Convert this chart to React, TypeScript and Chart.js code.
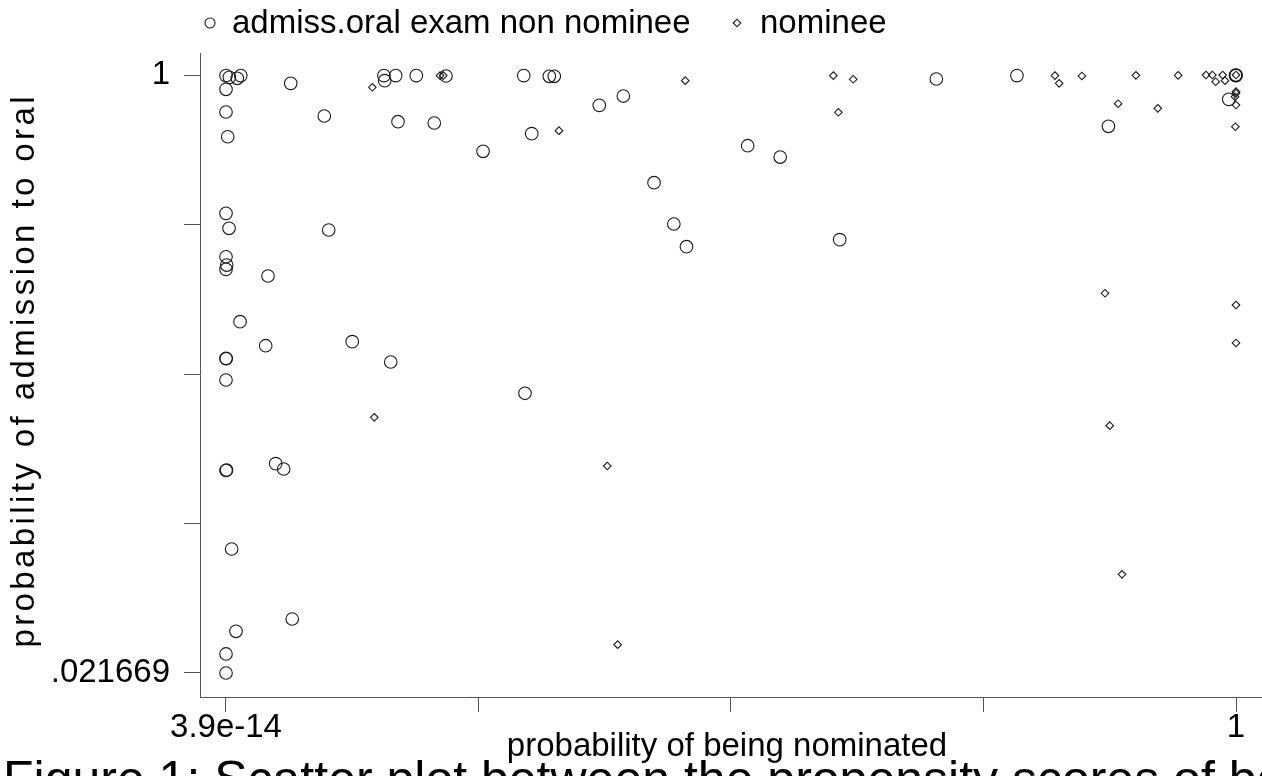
import React, { useEffect, useRef } from 'react';
import { Chart, registerables } from 'chart.js';

Chart.register(...registerables);

const FONT = '"Liberation Sans", Arial, Helvetica, sans-serif';

// non nominee (circles)
const nonNomineeX = [
  0.0, 0.0033, 0.0112, 0.0146, 0.0, 0.0, 0.0017, 0.0641, 0.0973, 0.1564,
  0.1571, 0.168, 0.1884, 0.2178, 0.1703, 0.2062, 0.2545, 0.2948, 0.3201, 0.325,
  0.3027, 0.3696, 0.3934, 0.0, 0.003, 0.1017, 0.0, 0.0007, 0.0, 0.0416,
  0.0139, 0.0393, 0.125, 0.0, 0.0002, 0.1631, 0.0, 0.296, 0.0006, 0.0,
  0.0492, 0.0571, 0.0056, 0.0656, 0.0099, 0.0, 0.0, 0.4238, 0.5165, 0.5487,
  0.4434, 0.4559, 0.6076, 0.7033, 0.7831, 0.8737, 0.9928, 1.0, 0.9995, 1.0,
];
const nonNomineeY = [
  0.999, 0.9962, 0.9946, 0.999, 0.9766, 0.9395, 0.899, 0.9864, 0.9329, 0.999,
  0.9907, 0.999, 0.999, 0.9984, 0.9236, 0.9215, 0.8752, 0.999, 0.9979, 0.9979,
  0.904, 0.9504, 0.9656, 0.7737, 0.7492, 0.7464, 0.7027, 0.6891, 0.6821, 0.6712,
  0.5964, 0.5571, 0.5637, 0.5365, 0.5358, 0.5305, 0.501, 0.4793, 0.3538, 0.353,
  0.3641, 0.3554, 0.2245, 0.11, 0.0899, 0.0528, 0.021669, 0.8238, 0.8843, 0.8658,
  0.7562, 0.7191, 0.7306, 0.9935, 0.999, 0.9161, 0.9602, 1.0, 0.9995, 0.999,
];

// nominee (diamonds)
const nomineeX = [
  0.1449, 0.2119, 0.2151, 0.3297, 0.1468, 0.3775, 0.3878, 0.4547, 0.6013, 0.621,
  0.6063, 0.8207, 0.8249, 0.8474, 0.9009, 0.9427, 0.9703, 0.9766, 0.9799, 0.9868,
  0.9891, 0.8833, 0.9226, 1.0, 1.0, 0.999, 1.0, 0.9994, 0.8703, 1.0,
  1.0, 0.875, 0.8871, 1.0,
];
const nomineeY = [
  0.9799, 0.999, 0.999, 0.9089, 0.44, 0.3603, 0.068, 0.9907, 0.999, 0.993,
  0.939, 0.999, 0.9864, 0.9984, 0.9995, 0.9995, 1.0, 1.0, 0.989, 1.0,
  0.9907, 0.953, 0.9455, 0.9727, 0.9701, 0.9645, 0.9509, 0.9154, 0.6429, 0.6237,
  0.5616, 0.4263, 0.1831, 1.0,
];

const xTickValues = [3.9e-14, 0.25, 0.5, 0.75, 1];
const xTickLabels = ['3.9e-14', '', '', '', '1'];
const yTickValues = [0.021669, 0.266252, 0.510835, 0.755417, 1];
const yTickLabels = ['.021669', '', '', '', '1'];

const seriesLabels = ['admiss.oral exam non nominee', 'nominee'];
const xTitle = 'probability of being nominated';
const yTitle = 'probability of admission to oral';
const caption = 'Figure 1: Scatter plot between the propensity scores of both selection stages';

const INK = '#1a1a1a';
const AXIS = '#555555';

function drawSpaced(ctx: CanvasRenderingContext2D, text: string, cx: number, y: number, spacing: number) {
  const chars = Array.from(text);
  const widths = chars.map((c) => ctx.measureText(c).width);
  const total = widths.reduce((a, b) => a + b, 0) + spacing * (chars.length - 1);
  let x = cx - total / 2;
  ctx.textAlign = 'left';
  chars.forEach((c, i) => {
    ctx.fillText(c, x, y);
    x += widths[i] + spacing;
  });
}

const decorations = {
  id: 'decorations',
  afterDraw(chart: any) {
    const ctx: CanvasRenderingContext2D = chart.ctx;
    const area = chart.chartArea;
    ctx.save();
    ctx.fillStyle = '#000';
    ctx.strokeStyle = INK;
    ctx.lineWidth = 1.1;

    // legend
    ctx.beginPath();
    ctx.arc(210, 23, 5, 0, Math.PI * 2);
    ctx.stroke();
    ctx.beginPath();
    ctx.moveTo(737 - 3.8, 23);
    ctx.lineTo(737, 23 - 3.8);
    ctx.lineTo(737 + 3.8, 23);
    ctx.lineTo(737, 23 + 3.8);
    ctx.closePath();
    ctx.stroke();
    ctx.font = `33px ${FONT}`;
    ctx.textBaseline = 'alphabetic';
    ctx.textAlign = 'left';
    ctx.fillText(seriesLabels[0], 232, 33);
    ctx.fillText(seriesLabels[1], 760, 33);

    // x title
    ctx.textAlign = 'center';
    ctx.fillText(xTitle, (area.left + area.right) / 2 - 4, 756);

    // y title
    ctx.save();
    ctx.translate(34, (area.top + area.bottom) / 2 - 3);
    ctx.rotate(-Math.PI / 2);
    drawSpaced(ctx, yTitle, 0, 0, 3.4);
    ctx.restore();

    // caption
    ctx.font = `50px ${FONT}`;
    ctx.textAlign = 'left';
    ctx.fillText(caption, 3, 796);
    ctx.restore();
  },
};

export default function App() {
  const canvasRef = useRef<HTMLCanvasElement | null>(null);

  useEffect(() => {
    const canvas = canvasRef.current;
    if (!canvas) return;
    const chart = new Chart(canvas, {
      type: 'scatter',
      data: {
        datasets: [
          {
            label: seriesLabels[0],
            data: nonNomineeX.map((x, i) => ({ x, y: nonNomineeY[i] })),
            pointStyle: 'circle',
            pointRadius: 6.3,
            pointHoverRadius: 6.3,
            borderColor: INK,
            backgroundColor: 'rgba(0,0,0,0)',
            borderWidth: 1.1,
          },
          {
            label: seriesLabels[1],
            data: nomineeX.map((x, i) => ({ x, y: nomineeY[i] })),
            pointStyle: 'rectRot',
            pointRadius: 3.8,
            pointHoverRadius: 3.8,
            borderColor: INK,
            backgroundColor: 'rgba(0,0,0,0)',
            borderWidth: 1.1,
          },
        ],
      },
      options: {
        animation: false,
        responsive: false,
        maintainAspectRatio: false,
        layout: { autoPadding: false, padding: { top: 53, left: 0, right: 0, bottom: 0 } },
        plugins: {
          legend: { display: false },
          tooltip: { enabled: false },
        },
        scales: {
          x: {
            type: 'linear',
            min: -0.02574,
            max: 1.02574,
            afterBuildTicks: (s: any) => {
              s.ticks = xTickValues.map((v) => ({ value: v }));
            },
            afterFit: (s: any) => {
              s.height = 79;
              s.paddingLeft = 0;
              s.paddingRight = 0;
            },
            grid: { drawOnChartArea: false, drawTicks: true, tickLength: 15, color: AXIS, lineWidth: 1 },
            border: { display: true, color: AXIS, width: 1 },
            ticks: {
              autoSkip: false,
              maxRotation: 0,
              minRotation: 0,
              padding: -4,
              color: '#000',
              font: { family: FONT, size: 33 },
              callback: (_v: any, i: number) => xTickLabels[i],
            },
          },
          y: {
            type: 'linear',
            min: -0.0176,
            max: 1.036,
            afterBuildTicks: (s: any) => {
              s.ticks = yTickValues.map((v) => ({ value: v }));
            },
            afterFit: (s: any) => {
              s.width = 200;
              s.paddingTop = 0;
              s.paddingBottom = 0;
            },
            grid: { drawOnChartArea: false, drawTicks: true, tickLength: 16, color: AXIS, lineWidth: 1 },
            border: { display: true, color: AXIS, width: 1 },
            ticks: {
              autoSkip: false,
              padding: 14,
              color: '#000',
              font: { family: FONT, size: 33 },
              callback: (_v: any, i: number) => yTickLabels[i],
            },
          },
        },
      },
      plugins: [decorations],
    });
    return () => chart.destroy();
  }, []);

  return (
    <div style={{ position: 'fixed', left: 0, top: 0, width: 1262, height: 776, overflow: 'hidden', background: '#fff' }}>
      <canvas ref={canvasRef} width={1262} height={776} style={{ display: 'block' }} />
    </div>
  );
}
